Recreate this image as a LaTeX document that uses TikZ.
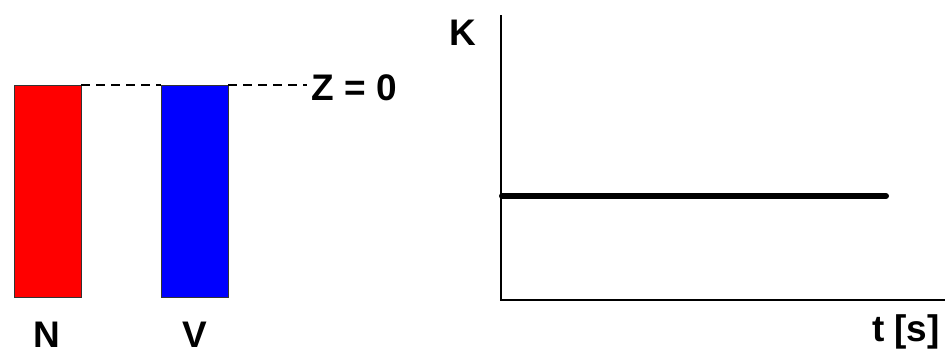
\documentclass[tikz,border=0pt]{standalone}
\usepackage{fontspec}
\setmainfont{Liberation Sans}
\usetikzlibrary{positioning}

\begin{document}
\begin{tikzpicture}[
          x=1pt, y=-1pt,
          every node/.style={font=\fontsize{37}{44}\selectfont\bfseries, inner sep=0pt},
          bar/.style={draw=black!80, line width=1pt},
          level/.style={dash pattern=on 9pt off 6pt, line width=1.3pt},
          axis/.style={draw, line width=1.4pt},
          curve/.style={draw, line width=6pt, line cap=round}
        ]
          \useasboundingbox (0,0) rectangle (945,356);
          % bars
          \draw[bar, fill=red] (14,85) rectangle (81,297);
          \draw[bar, fill=blue] (161,85) rectangle (228,297);
          \coordinate (redtop) at (81,85);
          \coordinate (bluetop) at (161,85);
          \coordinate (bluetopr) at (228,85);
          \node (zlabel) at (354,88) {Z = 0};
          \draw[level] (redtop) -- (bluetop);
          \draw[level, shorten >=4pt] (bluetopr) -- (bluetopr -| zlabel.west);
          \node (nlabel) at (47,335) {N};
          \node (vlabel) at (195,335) {V};
          % graph
          \coordinate (origin) at (501,300);
          \coordinate (ytop) at (501,15);
          \coordinate (xend) at (945,300);
          \draw[axis] (ytop) -- (origin) -- (xend);
          \node (klabel) at (463,33) {K};
          \node (tlabel) at (906,332) {t [s]};
          \coordinate (kstart) at (502,196);
          \coordinate (kend) at (886,196);
          \draw[curve] (kstart) -- (kend);
        \end{tikzpicture}
\end{document}
